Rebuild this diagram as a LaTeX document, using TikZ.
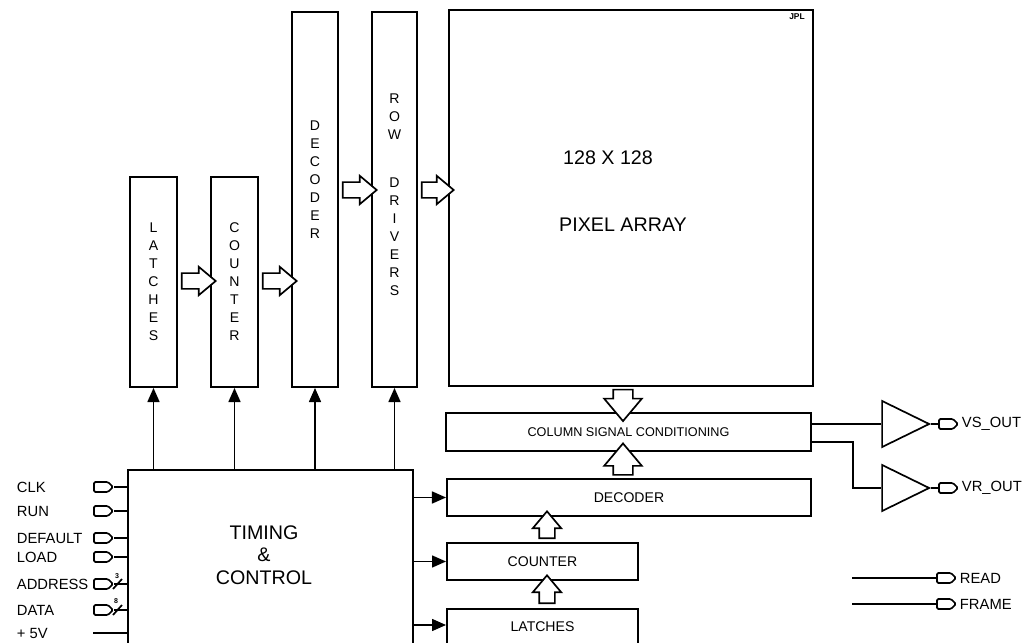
\documentclass[tikz,border=0pt]{standalone}
\usepackage{fontspec}
\setmainfont{Liberation Sans}
\usetikzlibrary{arrows.meta,positioning,shapes.geometric,shapes.arrows,shapes.symbols,calc}

\begin{document}
\begin{tikzpicture}[x=0.025cm, y=-0.025cm,
  box/.style={draw, line width=1.3pt, inner sep=0pt, align=center, font=\fontsize{10}{12.8}\selectfont},
  vtxt/.style={align=center, font=\fontsize{10}{12.8}\selectfont},
  big/.style={align=center, font=\fontsize{14}{16}\selectfont},
  arrow/.style={-{Triangle[length=10pt,width=8.5pt]}, line width=1.2pt},
  wire/.style={line width=1.2pt},
  hollow/.style={draw, single arrow, fill=white, line width=1.2pt, inner sep=0.175cm, single arrow head extend=0.16cm, single arrow tip angle=80, minimum height=#1},
  hollow/.default=0.85cm,
  wide/.style={inner sep=0.225cm, single arrow head extend=0.225cm},
  port/.style={draw, signal, signal to=east, line width=1.2pt, inner sep=0pt, rounded corners=1pt, minimum width=0.475cm, minimum height=0.25cm},
  amp/.style={draw, isosceles triangle, isosceles triangle stretches, line width=1.2pt, inner sep=0pt, minimum width=1.15cm, minimum height=1.175cm},
  pinlbl/.style={anchor=west, font=\fontsize{10.5}{12}\selectfont}
]
\useasboundingbox (0,0) rectangle (1022,643);
\clip (0,0) rectangle (1022,643);

% row side
\node[box, minimum width=1.175cm, minimum height=5.25cm] (latches) at (153.5,282) {L\\A\\T\\C\\H\\E\\S};
\node[box, minimum width=1.175cm, minimum height=5.25cm] (counter) at (234.5,282) {C\\O\\U\\N\\T\\E\\R};
\node[box, minimum width=1.15cm, minimum height=9.375cm] (decoder) at (315,199.5) {};
\node[box, minimum width=1.125cm, minimum height=9.375cm] (rowdrv) at (394.5,199.5) {};
\node[vtxt] (dectxt) at (315,180) {D\\E\\C\\O\\D\\E\\R};
\node[vtxt] (rowtxt) at (394.5,117) {R\\O\\W};
\node[vtxt] (drvtxt) at (394.5,237) {D\\R\\I\\V\\E\\R\\S};

% array
\node[box, minimum width=9.1cm, minimum height=9.4cm] (array) at (631,198) {};
\node[big] (size) at (608,158) {128 X 128};
\node[big] (pixtxt) at (623,225) {PIXEL ARRAY};
\node[font=\bfseries\fontsize{6}{7}\selectfont] (jpl) at (797,17) {JPL};

% column side
\node[box, minimum width=9.125cm, minimum height=0.95cm, font=\fontsize{9}{11}\selectfont] (colsig) at (628.5,432) {COLUMN SIGNAL CONDITIONING};
\node[box, minimum width=9.1cm, minimum height=0.925cm] (coldec) at (629,497.5) {DECODER};
\node[box, minimum width=4.775cm, minimum height=0.925cm] (colcnt) at (542.5,561.5) {COUNTER};
\node[box, minimum width=4.775cm, minimum height=1.8cm, anchor=north] (collat) at (542.5,608) {};
\node[vtxt] (lattxt) at (542.5,627) {LATCHES};

% timing
\node[box, minimum width=7.125cm, minimum height=5.275cm, anchor=north] (timing) at (270.5,469) {};
\node[big] (timtxt) at (264,555) {TIMING\\\&\\CONTROL};

% wide arrows
\node[hollow] (a1) at (194,281) {};
\node[hollow] (a2) at (275,281) {};
\node[hollow] (a3) at (355,190) {};
\node[hollow=0.8cm] (a4) at (433,190) {};
\node[hollow=0.675cm, wide, shape border rotate=270] (a5) at (623,399.5) {};
\node[hollow=0.7cm, wide, shape border rotate=90] (a6) at (623,465) {};
\node[hollow=0.675cm, shape border rotate=90] (a7) at (547,529.5) {};
\node[hollow=0.7cm, shape border rotate=90] (a8) at (547,594) {};

% control arrows
\foreach \n in {latches,counter,decoder,rowdrv}
  \draw[arrow] (\n.south |- timing.north) -- (\n.south);
\coordinate (latin) at ($(collat.north west)+(0,17)$);
\draw[arrow] (timing.east |- coldec.west) -- (coldec.west);
\draw[arrow] (timing.east |- colcnt.west) -- (colcnt.west);
\draw[arrow] (timing.east |- latin) -- (latin);

% inputs
\foreach \name/\txt/\y in {clk/CLK/487, run/RUN/511, dflt/DEFAULT/538, load/LOAD/557, addr/ADDRESS/584, data/DATA/610} {
  \node[port] (\name) at (101,\y) {};
  \node[pinlbl] (l\name) at (12,\y) {\txt};
  \draw[wire] (\name.east) -- (\name.east -| timing.west);
}
\coordinate (p5v) at (93,633);
\node[pinlbl] (l5v) at (12,633) {+ 5V};
\draw[wire] (p5v) -- (p5v -| timing.west);
\draw[wire] (113,589) -- (122,579);
\node[font=\bfseries\fontsize{5}{6}\selectfont] (w3) at (117,576) {3};
\draw[wire] (113,615) -- (122,605);
\node[font=\bfseries\fontsize{5}{6}\selectfont] (w8) at (116,601) {8};

% outputs
\node[amp] (vsamp) at (896.5,424) {};
\node[amp] (vramp) at (896.5,488) {};
\node[port] (vs) at (946,424) {};
\node[port] (vr) at (946,488) {};
\node[pinlbl] (lvs) at (957,424) {VS\_OUT};
\node[pinlbl] (lvr) at (957,488) {VR\_OUT};
\draw[wire] (vsamp.west -| colsig.east) -- (vsamp.west);
\draw[wire] ($(colsig.east)+(0,10)$) -| ($(vramp.west)+(-28,0)$) -- (vramp.west);
\draw[wire] (vsamp.apex) -- (vs.west);
\draw[wire] (vramp.apex) -- (vr.west);

\node[port] (rd) at (944,578) {};
\node[port] (fr) at (944,604) {};
\coordinate (rdin) at (852,578);
\coordinate (frin) at (852,604);
\node[pinlbl] (lrd) at (955,578) {READ};
\node[pinlbl] (lfr) at (955,604) {FRAME};
\draw[wire] (rdin) -- (rd.west);
\draw[wire] (frin) -- (fr.west);
\end{tikzpicture}
\end{document}
